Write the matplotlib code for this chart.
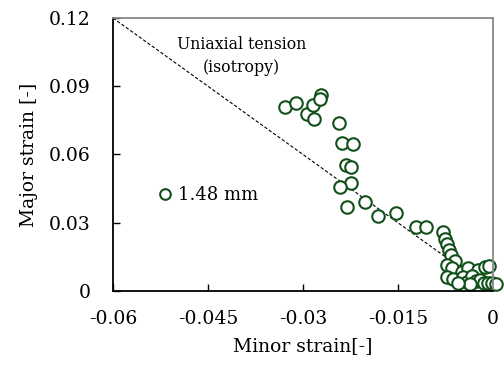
import matplotlib
matplotlib.use("Agg")
import matplotlib.pyplot as plt

# measured points (minor strain, major strain)
minor_strain = [-0.0328, -0.0311, -0.0294, -0.0284, -0.0283, -0.0272, -0.0273,
                -0.0243, -0.0238, -0.0221, -0.0232, -0.0224, -0.0224, -0.0242,
                -0.0231, -0.0202, -0.0182, -0.0153, -0.0122, -0.0106,
                -0.0079, -0.0076, -0.0073, -0.0069, -0.0066, -0.0060, -0.0073,
                -0.0065, -0.0049, -0.0039, -0.0024, -0.0013, -0.0006, -0.0073,
                -0.0063, -0.0047, -0.0041, -0.0033, -0.0027, -0.0021, -0.0014,
                -0.0008, -0.0002, 0.0005, -0.0036, -0.0055]
major_strain = [0.0809, 0.0826, 0.0778, 0.0818, 0.0756, 0.0862, 0.0844,
                0.0738, 0.0651, 0.0646, 0.0554, 0.0545, 0.0475, 0.0457,
                0.0369, 0.0391, 0.0330, 0.0343, 0.0281, 0.0281,
                0.0259, 0.0229, 0.0207, 0.0180, 0.0158, 0.0132, 0.0114,
                0.0101, 0.0084, 0.0101, 0.0092, 0.0105, 0.0110, 0.0062,
                0.0053, 0.0062, 0.0040, 0.0066, 0.0044, 0.0048, 0.0035,
                0.0035, 0.0035, 0.0031, 0.0031, 0.0035]
# uniaxial tension line (isotropy): major = -2 * minor
uni_minor = [-0.06, 0.0]
uni_major = [0.12, 0.0]

x_ticks = [-0.06, -0.045, -0.03, -0.015, 0]
x_tick_labels = ["-0.06", "-0.045", "-0.03", "-0.015", "0"]
y_ticks = [0, 0.03, 0.06, 0.09, 0.12]
y_tick_labels = ["0", "0.03", "0.06", "0.09", "0.12"]

plt.rcParams['font.family'] = ['DejaVu Serif']
green = '#11501a'

fig = plt.figure(figsize=(5.04, 3.74), dpi=100)
ax = fig.add_axes([0.224, 0.222, 0.754, 0.730])

ax.plot(uni_minor, uni_major, color='black', linestyle=(0, (3, 1.8)), linewidth=0.8)
ax.plot(minor_strain, major_strain, linestyle='none', marker='o', markersize=9,
        markerfacecolor='white', markeredgecolor=green, markeredgewidth=1.5,
        label='1.48 mm', clip_on=False)

ax.set_xlim(-0.06, 0)
ax.set_ylim(0, 0.12)
ax.set_xticks(x_ticks)
ax.set_xticklabels(x_tick_labels)
ax.set_yticks(y_ticks)
ax.set_yticklabels(y_tick_labels)
ax.tick_params(direction='in', length=5, width=1, labelsize=13.5)
ax.tick_params(axis='y', pad=16)
ax.tick_params(axis='x', pad=14)

for side in ['left', 'bottom']:
    ax.spines[side].set_color('black')
    ax.spines[side].set_linewidth(1.3)
for side in ['top', 'right']:
    ax.spines[side].set_color('#888888')
    ax.spines[side].set_linewidth(1.3)

ax.set_xlabel("Minor strain[-]", fontsize=13.5, labelpad=6)
ax.set_ylabel("Major strain [-]", fontsize=13.5, labelpad=8)

ax.text(0.339, 0.86, "Uniaxial tension\n(isotropy)", transform=ax.transAxes,
        ha='center', va='center', fontsize=11.3, linespacing=1.45)

ax.legend(loc='center left', bbox_to_anchor=(0.095, 0.352), frameon=False,
          handlelength=0.8, handletextpad=0.3, borderpad=0, fontsize=13,
          markerscale=0.85)

fig.savefig("out.png", dpi=100)
